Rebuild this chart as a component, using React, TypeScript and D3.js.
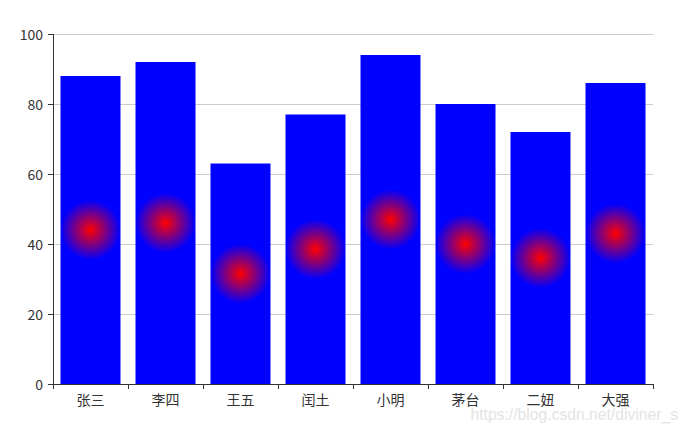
import React from "react";
import * as d3 from "d3";

const categories = ["张三", "李四", "王五", "闰土", "小明", "茅台", "二妞", "大强"];
const values = [88, 92, 63, 77, 94, 80, 72, 86];
const yTicks = [0, 20, 40, 60, 80, 100];

const W = 688;
const H = 432;
const left = 53;
const right = 653;
const top = 34;
const bottom = 384;

export default function App() {
  const x = d3.scaleBand<string>().domain(categories).range([left, right]).paddingInner(0).paddingOuter(0);
  const y = d3.scaleLinear().domain([0, 100]).range([bottom, top]);
  const bw = x.bandwidth() * 0.8;
  const font = "'Noto Sans CJK SC', 'Microsoft YaHei', sans-serif";
  const boundaries = categories.map((c) => x(c)!).concat([right]);

  return (
    <svg width={W} height={H} style={{ position: "absolute", left: 0, top: 0, background: "#fff" }}>
      <defs>
        {categories.map((c, i) => {
          const cx = x(c)! + x.bandwidth() / 2;
          const cy = (y(values[i]) + y(0)) / 2;
          return (
            <radialGradient key={c} id={`g${i}`} gradientUnits="userSpaceOnUse" cx={cx} cy={cy} r={bw / 2}>
              <stop offset="0" stopColor="#ff0000" />
              <stop offset="1" stopColor="#0000ff" />
            </radialGradient>
          );
        })}
      </defs>
      {yTicks.map((t) => (
        <g key={t}>
          {t !== 0 && (
            <line x1={left} x2={right} y1={y(t) + 0.5} y2={y(t) + 0.5} stroke="#ccc" strokeWidth={1} />
          )}
          <line x1={left - 5} x2={left} y1={y(t) + 0.5} y2={y(t) + 0.5} stroke="#333" />
          <text x={left - 10} y={y(t)} textAnchor="end" dominantBaseline="central" fontSize={14} fill="#333" fontFamily={font}>
            {t}
          </text>
        </g>
      ))}
      {categories.map((c, i) => (
        <rect
          key={c}
          x={x(c)! + (x.bandwidth() - bw) / 2}
          y={y(values[i])}
          width={bw}
          height={y(0) - y(values[i])}
          fill={`url(#g${i})`}
        />
      ))}
      <line x1={left + 0.5} x2={left + 0.5} y1={top} y2={bottom} stroke="#333" />
      <line x1={left} x2={right} y1={bottom + 0.5} y2={bottom + 0.5} stroke="#333" />
      {boundaries.map((b, i) => (
        <line key={i} x1={b + 0.5} x2={b + 0.5} y1={bottom} y2={bottom + 5} stroke="#333" />
      ))}
      {categories.map((c) => (
        <text
          key={c}
          x={x(c)! + x.bandwidth() / 2}
          y={404.5}
          textAnchor="middle"
          fontSize={14}
          fill="#333"
          fontFamily={font}
        >
          {c}
        </text>
      ))}
      <text x={678} y={420} textAnchor="end" fontSize={15.7} fill="#e4e4e4" fontFamily="'Liberation Sans', Arial, sans-serif">
        https://blog.csdn.net/diviner_s
      </text>
    </svg>
  );
}
